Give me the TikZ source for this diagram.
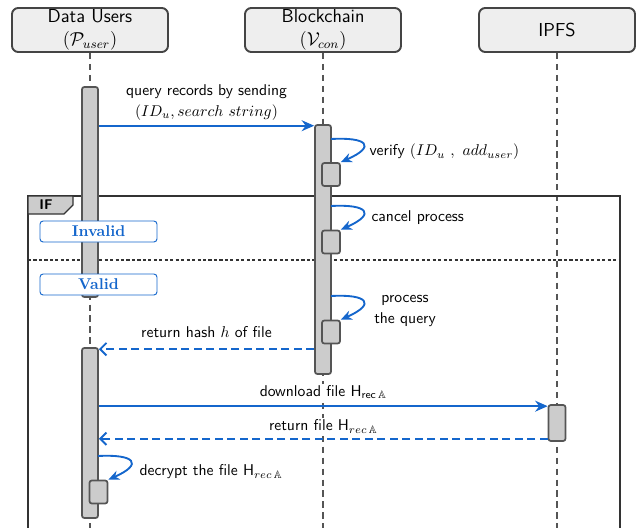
\documentclass[tikz,border=0pt]{standalone}
\usepackage{amssymb}
\usetikzlibrary{arrows.meta}
\definecolor{umlblue}{RGB}{20,102,204}
\definecolor{bargray}{RGB}{204,204,204}
\definecolor{linegray}{RGB}{85,85,85}
\definecolor{hdrgray}{RGB}{238,238,238}
\def\px{0.64pt}

\begin{document}
\begin{tikzpicture}[x=\px,y=-\px,font=\sffamily]
    \tikzstyle{header}=[draw=linegray!80!black, line width=1.2pt, fill=hdrgray, rounded corners=4pt, minimum width=156*\px, minimum height=44*\px, align=center, inner sep=0pt, font=\sffamily\large]
    \tikzstyle{lifeline}=[draw=linegray, line width=1pt, dash pattern=on 4pt off 3pt]
    \tikzstyle{bar}=[draw=linegray, line width=1.1pt, fill=bargray, rounded corners=1.5pt, minimum width=16*\px, inner sep=0pt]
    \tikzstyle{smallbox}=[bar, minimum width=18*\px, minimum height=23*\px]
    \tikzstyle{frame}=[draw=black!80, line width=0.7pt]
    \tikzstyle{guard}=[draw=umlblue, line width=0.6pt, fill=white, rounded corners=2pt, minimum width=117*\px, minimum height=21*\px, inner sep=0pt, text=umlblue, font=\rmfamily\bfseries]
    \tikzstyle{msg}=[draw=umlblue, line width=1.2pt, -{Stealth[length=8pt,width=7pt]}]
    \tikzstyle{reply}=[draw=umlblue, line width=1.2pt, dash pattern=on 5pt off 3pt, -{Straight Barb[length=4pt,width=8pt]}]
    \tikzstyle{callself}=[draw=umlblue, line width=1.2pt, -{Stealth[length=7pt,width=6pt]}]
    \tikzstyle{msglabel}=[fill=white, inner sep=1pt]

    \useasboundingbox (0,0) rectangle (639,527);

    % Draw the headers of the three parties
    \node[header] (hdr-U) at (90,30) {Data Users\\[1pt]$(\mathcal{P}_{user})$};
    \node[header] (hdr-B) at (323,30) {Blockchain\\[1pt]$(\mathcal{V}_{con})$};
    \node[header] (hdr-I) at (557,30) {IPFS};

    % Draw the lifelines
    \coordinate (end-U) at (90,530);
    \coordinate (end-B) at (323,530);
    \coordinate (end-I) at (557,530);
    \foreach \who in {U,B,I}
        \draw[lifeline] (hdr-\who) -- (end-\who);

    % Draw the IF frame and its two cases
    \draw[frame] (28,530) -- (28,196) -- (620,196) -- (620,530);
    \draw[frame, dash pattern=on 2pt off 1.5pt] (28,260) -- (620,260);
    \draw[frame, fill=bargray] (28,196) -- (73,196) -- (73,205) -- (64,214) -- (28,214) -- cycle;
    \node[font=\sffamily\bfseries\small] (if-tag) at (46,205) {IF};

    % Draw the activation bars
    \node[bar, minimum height=210*\px] (U1) at (90,192) {};
    \node[bar, minimum height=249*\px] (B1) at (323,249.5) {};
    \node[bar, minimum height=170*\px] (U2) at (90,433) {};
    \node[bar, minimum width=17*\px, minimum height=36*\px] (I1) at (557,423) {};

    % Draw the nested boxes of the self calls
    \node[smallbox] (B-v) at (331,174.5) {};
    \node[smallbox] (B-c) at (331,242) {};
    \node[smallbox] (B-p) at (331,332) {};
    \node[smallbox] (U-d) at (98.5,492) {};

    % Draw the guards
    \node[guard] (g-inv) at (98.5,231.5) {Invalid};
    \node[guard] (g-val) at (98.5,284.5) {Valid};

    % Draw the messages between the parties
    \draw[msg] ([yshift=-1pt]U1.east |- B1.north) -- node[msglabel, above=2pt, align=center]
        {query records by sending\\[1pt]$(ID_u, search\ string)$} ([yshift=-1pt]B1.north west);
    \draw[reply] ([yshift=-1.3pt]B1.west |- U2.north) -- node[msglabel, above=6pt]
        {return hash $h$ of file} ([yshift=-1.3pt]U2.north east);
    \draw[msg] ([yshift=-1.3pt]U2.east |- I1.north) -- node[msglabel, above=3pt]
        {download file H$_{\mathsf{rec}\,\mathbb{A}}$} ([yshift=-1.3pt]I1.north west);
    \draw[reply] ([yshift=2pt]I1.south west) -- node[msglabel, above=2pt]
        {return file H$_{rec\,\mathbb{A}}$} ([yshift=2pt]U2.east |- I1.south);

    % Draw the self calls
    \coordinate (v-s) at (331,139);
    \coordinate (c-s) at (331,206);
    \coordinate (p-s) at (331,296);
    \coordinate (d-s) at (98,456);
    \foreach \src/\dst in {v-s/B-v, c-s/B-c, p-s/B-p, d-s/U-d}
        \draw[callself] (\src) .. controls +(36,-2) and +(36,-16) .. (\dst.north east);

    % Annotate the self calls
    \node[anchor=west] (t-ver) at (364,152) {verify $(ID_u\ ,\ add_{user})$};
    \node[anchor=west] (t-can) at (366,218) {cancel process};
    \node[align=center] (t-pro) at (405,311) {process\\[1.5pt]the query};
    \node[anchor=west] (t-dec) at (134,472) {decrypt the file H$_{rec\,\mathbb{A}}$};
\end{tikzpicture}
\end{document}
